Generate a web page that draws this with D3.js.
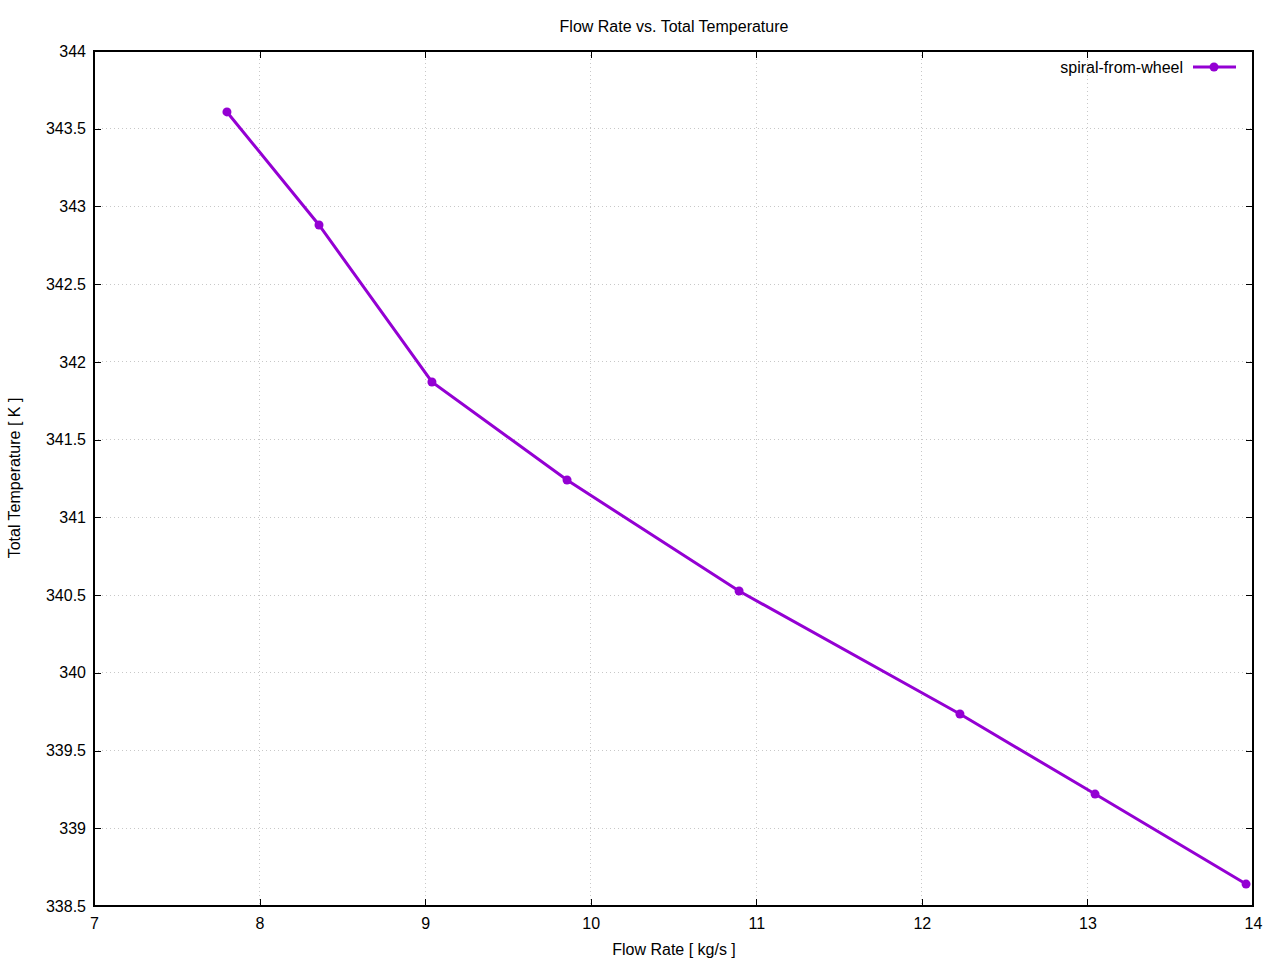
<!DOCTYPE html>
<html><head><meta charset="utf-8">
<script src="https://cdn.jsdelivr.net/npm/d3@7"></script>
<style>body{margin:0;background:#fff}svg{display:block;font-family:"Liberation Sans",Arial,sans-serif}</style>
</head><body><svg id="c" width="1280" height="960"></svg>
<script>
const flowRate = [7.803, 8.359, 9.041, 9.857, 10.896, 12.230, 13.046, 13.958];
const totalTemp = [343.608, 342.881, 341.871, 341.240, 340.526, 339.735, 339.220, 338.641];
const xTicks = [7, 8, 9, 10, 11, 12, 13, 14];
const yTicks = [338.5, 339, 339.5, 340, 340.5, 341, 341.5, 342, 342.5, 343, 343.5, 344];
const seriesName = "spiral-from-wheel";

const svg = d3.select("#c");
const L = 94, R = 1253, T = 51, B = 906;
const x = d3.scaleLinear().domain([7, 14]).range([L, R]);
const y = d3.scaleLinear().domain([338.5, 344]).range([B, T]);
const color = "#9400d3";

// grid
const g = svg.append("g");
g.selectAll(".gx").data(xTicks.slice(1, -1)).enter().append("line")
  .attr("x1", d => x(d)).attr("x2", d => x(d)).attr("y1", T).attr("y2", B)
  .attr("stroke", "#c8c8c8").attr("stroke-dasharray", "1,3").attr("stroke-width", 1)
  .attr("shape-rendering", "crispEdges");
g.selectAll(".gy").data(yTicks.slice(1, -1)).enter().append("line")
  .attr("y1", d => y(d)).attr("y2", d => y(d)).attr("x1", L).attr("x2", R)
  .attr("stroke", "#c8c8c8").attr("stroke-dasharray", "1,3").attr("stroke-width", 1)
  .attr("shape-rendering", "crispEdges");

// axes (ticks inward, mirrored)
const tl = 7;
const fmt = d => String(d);
svg.append("g").attr("transform", `translate(0,${B})`)
  .call(d3.axisBottom(x).tickValues(xTicks).tickFormat(fmt).tickSize(-tl).tickPadding(12))
  .call(a => a.select(".domain").remove());
svg.append("g").attr("transform", `translate(0,${T})`)
  .call(d3.axisTop(x).tickValues(xTicks).tickFormat("").tickSize(-tl))
  .call(a => a.select(".domain").remove());
svg.append("g").attr("transform", `translate(${L},0)`)
  .call(d3.axisLeft(y).tickValues(yTicks).tickFormat(fmt).tickSize(-tl).tickPadding(8))
  .call(a => a.select(".domain").remove());
svg.append("g").attr("transform", `translate(${R},0)`)
  .call(d3.axisRight(y).tickValues(yTicks).tickFormat("").tickSize(-tl))
  .call(a => a.select(".domain").remove());
svg.selectAll(".tick text").attr("font-size", 16).attr("fill", "#000")
  .attr("font-family", '"Liberation Sans",Arial,sans-serif');
svg.selectAll(".tick line").attr("stroke", "#000").attr("shape-rendering", "crispEdges");

svg.append("rect").attr("x", L).attr("y", T).attr("width", R - L).attr("height", B - T)
  .attr("fill", "none").attr("stroke", "#000").attr("stroke-width", 1.2)
  .attr("shape-rendering", "crispEdges");

// data
const pts = flowRate.map((v, i) => [v, totalTemp[i]]);
svg.append("path").datum(pts)
  .attr("d", d3.line().x(d => x(d[0])).y(d => y(d[1])))
  .attr("fill", "none").attr("stroke", color).attr("stroke-width", 3);
svg.selectAll(".pt").data(pts).enter().append("circle")
  .attr("cx", d => x(d[0])).attr("cy", d => y(d[1])).attr("r", 4.5).attr("fill", color);

// legend
svg.append("text").attr("x", 1183).attr("y", 73).attr("text-anchor", "end")
  .attr("font-size", 16).text(seriesName);
svg.append("line").attr("x1", 1193).attr("x2", 1236).attr("y1", 67).attr("y2", 67)
  .attr("stroke", color).attr("stroke-width", 3);
svg.append("circle").attr("cx", 1214).attr("cy", 67).attr("r", 4.5).attr("fill", color);

// titles
svg.append("text").attr("x", 674).attr("y", 32).attr("text-anchor", "middle")
  .attr("font-size", 16).text("Flow Rate vs. Total Temperature");
svg.append("text").attr("x", 674).attr("y", 955).attr("text-anchor", "middle")
  .attr("font-size", 16).text("Flow Rate [ kg/s ]");
svg.append("text").attr("transform", "translate(20,478) rotate(-90)").attr("text-anchor", "middle")
  .attr("font-size", 16).text("Total Temperature [ K ]");
</script></body></html>
